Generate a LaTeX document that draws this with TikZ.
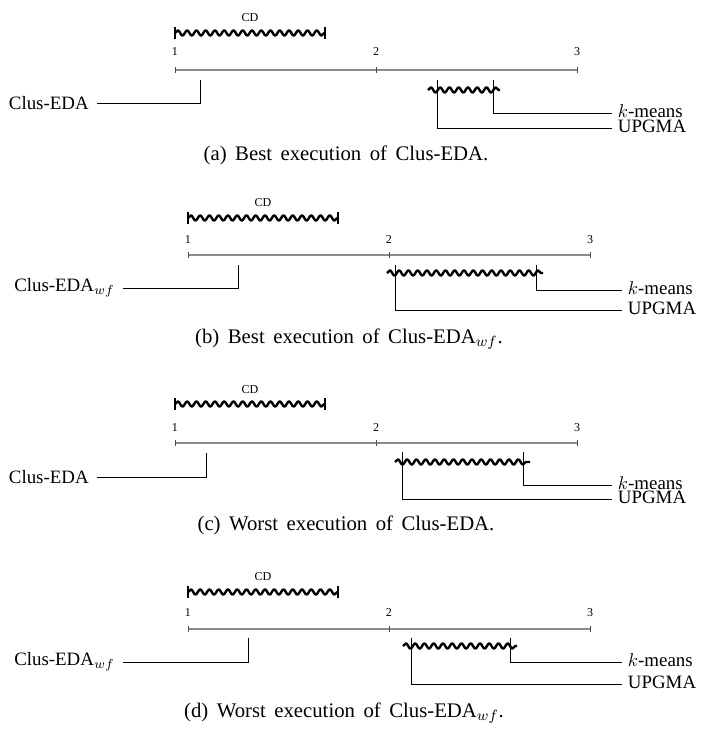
\documentclass[tikz,border=0pt]{standalone}
\usepackage{fontspec}
\setmainfont{Liberation Serif}
\usetikzlibrary{decorations.pathmorphing}
\newcommand\mycapfont{\fontsize{11.2}{13}\selectfont\spaceskip 4.6pt\relax}
\tikzset{
  wave/.style={line width=1.3pt, line join=round, decorate, decoration={snake, segment length=5pt, amplitude=1.4pt}},
  cdcap/.style={line width=0.8pt},
  axisline/.style={line width=1.1pt, draw=black!45},
  tickmark/.style={line width=0.5pt, draw=black!70},
  conn/.style={line width=0.5pt},
  lab/.style={font=\fontsize{10.2}{12}\selectfont, inner ysep=0pt},
  labL/.style={lab, anchor=east, inner xsep=4.3pt},
  labR/.style={lab, anchor=base west, inner xsep=3pt, yshift=-2.4pt},
  ticklab/.style={font=\fontsize{6.5}{8}\selectfont, inner sep=0pt},
  captionnode/.style={font=\mycapfont, inner sep=0pt}
}
\begin{document}
\begin{tikzpicture}[x=0.54pt, y=-0.54pt]
\useasboundingbox (0,0) rectangle (702,734);

% ---------------- panel (a)
\coordinate (a1) at (175,70); \coordinate (a2) at (376,70); \coordinate (a3) at (577,70);
\draw[axisline] (a1) -- (a3);
\foreach \p in {a1,a2,a3} \draw[tickmark] (\p) ++(0,-3) -- ++(0,6);
\node[ticklab] (a1l) at (175,52) {1};
\node[ticklab] (a2l) at (376,52) {2};
\node[ticklab] (a3l) at (577,52) {3};
\coordinate (acdL) at (175,33); \coordinate (acdR) at (325,33);
\draw[wave] (acdL) -- (acdR);
\draw[cdcap] (acdL) ++(0,-6) -- ++(0,12);
\draw[cdcap] (acdR) ++(0,-6) -- ++(0,12);
\node[ticklab] (acd) at (250,18) {CD};
\coordinate (acv) at (200,80);
\node[labL] (aclus) at (97,103) {Clus-EDA};
\draw[conn] (acv) |- (aclus.east);
\coordinate (awL) at (428,90); \coordinate (awR) at (500,90);
\draw[wave] (awL) -- (awR);
\coordinate (auv) at (437,80); \coordinate (akv) at (493,80);
\node[labR] (akm) at (612,113) {$k$-means};
\node[labR] (aup) at (612,128) {UPGMA};
\draw[conn] (akv) |- ([yshift=2.4pt]akm.base west);
\draw[conn] (auv) |- ([yshift=2.4pt]aup.base west);
\node[captionnode] (acap) at (346,155) {(a) Best execution of Clus-EDA.};

% ---------------- panel (b)
\coordinate (b1) at (188,255); \coordinate (b2) at (389,255); \coordinate (b3) at (590,255);
\draw[axisline] (b1) -- (b3);
\foreach \p in {b1,b2,b3} \draw[tickmark] (\p) ++(0,-3) -- ++(0,6);
\node[ticklab] (b1l) at (188,240) {1};
\node[ticklab] (b2l) at (389,240) {2};
\node[ticklab] (b3l) at (590,240) {3};
\coordinate (bcdL) at (188,218); \coordinate (bcdR) at (338,218);
\draw[wave] (bcdL) -- (bcdR);
\draw[cdcap] (bcdL) ++(0,-6) -- ++(0,12);
\draw[cdcap] (bcdR) ++(0,-6) -- ++(0,12);
\node[ticklab] (bcd) at (263,203) {CD};
\coordinate (bcv) at (238,265);
\node[labL] (bclus) at (123,288) {Clus-EDA$_{wf}$};
\draw[conn] (bcv) |- (bclus.east);
\coordinate (bwL) at (387,273); \coordinate (bwR) at (543,273);
\draw[wave] (bwL) -- (bwR);
\coordinate (buv) at (395,265); \coordinate (bkv) at (536,265);
\node[labR] (bkm) at (622,290) {$k$-means};
\node[labR] (bup) at (622,310) {UPGMA};
\draw[conn] (bkv) |- ([yshift=2.4pt]bkm.base west);
\draw[conn] (buv) |- ([yshift=2.4pt]bup.base west);
\node[captionnode] (bcap) at (349,339) {(b) Best execution of Clus-EDA$_{wf}$.};

% ---------------- panel (c)
\coordinate (c1) at (175,443); \coordinate (c2) at (376,443); \coordinate (c3) at (577,443);
\draw[axisline] (c1) -- (c3);
\foreach \p in {c1,c2,c3} \draw[tickmark] (\p) ++(0,-3) -- ++(0,6);
\node[ticklab] (c1l) at (175,428) {1};
\node[ticklab] (c2l) at (376,428) {2};
\node[ticklab] (c3l) at (577,428) {3};
\coordinate (ccdL) at (175,404); \coordinate (ccdR) at (325,404);
\draw[wave] (ccdL) -- (ccdR);
\draw[cdcap] (ccdL) ++(0,-6) -- ++(0,12);
\draw[cdcap] (ccdR) ++(0,-6) -- ++(0,12);
\node[ticklab] (ccd) at (250,390) {CD};
\coordinate (ccv) at (206,453);
\node[labL] (cclus) at (97,477) {Clus-EDA};
\draw[conn] (ccv) |- (cclus.east);
\coordinate (cwL) at (395,462); \coordinate (cwR) at (530,462);
\draw[wave] (cwL) -- (cwR);
\coordinate (cuv) at (402,452); \coordinate (ckv) at (523,452);
\node[labR] (ckm) at (612,485) {$k$-means};
\node[labR] (cup) at (612,499) {UPGMA};
\draw[conn] (ckv) |- ([yshift=2.4pt]ckm.base west);
\draw[conn] (cuv) |- ([yshift=2.4pt]cup.base west);
\node[captionnode] (ccap) at (346,525) {(c) Worst execution of Clus-EDA.};

% ---------------- panel (d)
\coordinate (d1) at (188,629); \coordinate (d2) at (389,629); \coordinate (d3) at (590,629);
\draw[axisline] (d1) -- (d3);
\foreach \p in {d1,d2,d3} \draw[tickmark] (\p) ++(0,-3) -- ++(0,6);
\node[ticklab] (d1l) at (188,613) {1};
\node[ticklab] (d2l) at (389,613) {2};
\node[ticklab] (d3l) at (590,613) {3};
\coordinate (dcdL) at (188,592); \coordinate (dcdR) at (338,592);
\draw[wave] (dcdL) -- (dcdR);
\draw[cdcap] (dcdL) ++(0,-6) -- ++(0,12);
\draw[cdcap] (dcdR) ++(0,-6) -- ++(0,12);
\node[ticklab] (dcd) at (263,577) {CD};
\coordinate (dcv) at (248,638);
\node[labL] (dclus) at (123,662) {Clus-EDA$_{wf}$};
\draw[conn] (dcv) |- (dclus.east);
\coordinate (dwL) at (403,646); \coordinate (dwR) at (517,646);
\draw[wave] (dwL) -- (dwR);
\coordinate (duv) at (411,638); \coordinate (dkv) at (510,638);
\node[labR] (dkm) at (622,662) {$k$-means};
\node[labR] (dup) at (622,684) {UPGMA};
\draw[conn] (dkv) |- ([yshift=2.4pt]dkm.base west);
\draw[conn] (duv) |- ([yshift=2.4pt]dup.base west);
\node[captionnode] (dcap) at (344,713) {(d) Worst execution of Clus-EDA$_{wf}$.};
\end{tikzpicture}
\end{document}
